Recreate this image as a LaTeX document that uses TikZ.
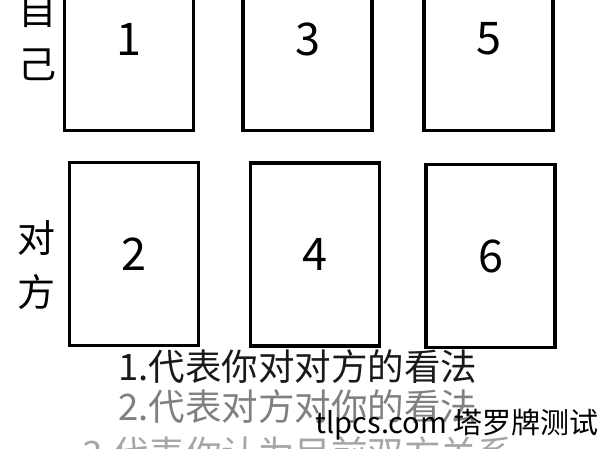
\documentclass[tikz,border=0pt]{standalone}
\usepackage{fontspec}
\setmainfont{Noto Sans CJK SC}
\usetikzlibrary{positioning}

\begin{document}
\begin{tikzpicture}
%Tarot spread, six cards
	[
	 	 %Styles
       x=1pt, y=-1pt,
       card_node/.style={rectangle,draw=black,line width=3.2pt,fill=white,
                         minimum width=129pt,minimum height=183pt,inner sep=0pt,
                         font=\fontsize{45}{45}\selectfont},
		 side_label/.style={align=center,inner sep=0pt,
		                    font=\fontsize{38}{54}\selectfont},
		 note_line/.style={inner sep=0pt,font=\fontsize{36.5}{36.5}\selectfont},
		 mark_text/.style={inner sep=0pt,font=\fontsize{29}{29}\selectfont}
    ]
    \useasboundingbox[fill=white] (0,0) rectangle (600,449);

    %Cards, top row
    \node (card1) [card_node] at (129,39) {1};
    \node (card3) [card_node] at (307.5,39) {3};
    \node (card5) [card_node] at (488.5,39) {5};
    %Cards, bottom row
    \node (card2) [card_node] at (134,254) {2};
    \node (card4) [card_node] at (315,254.5) {4};
    \node (card6) [card_node] at (490.5,256) {6};

    %Row labels
    \node (self) [side_label] at (37,37) {自\\己};
    \node (other) [side_label] at (36,265) {对\\方};

    %Notes under the cards
    \node (line1) [note_line,text=black!90] at (298,367) {1.代表你对对方的看法};
    \node (line2) [note_line,text=black!50] at (298,407) {2.代表对方对你的看法};
    \node (line3) [note_line,text=black!35] at (298,454) {3.代表你认为目前双方关系};

    %Watermark
    \node (mark) [mark_text,anchor=base east] at (599,433) {tlpcs.com 塔罗牌测试};
\end{tikzpicture}
\end{document}
